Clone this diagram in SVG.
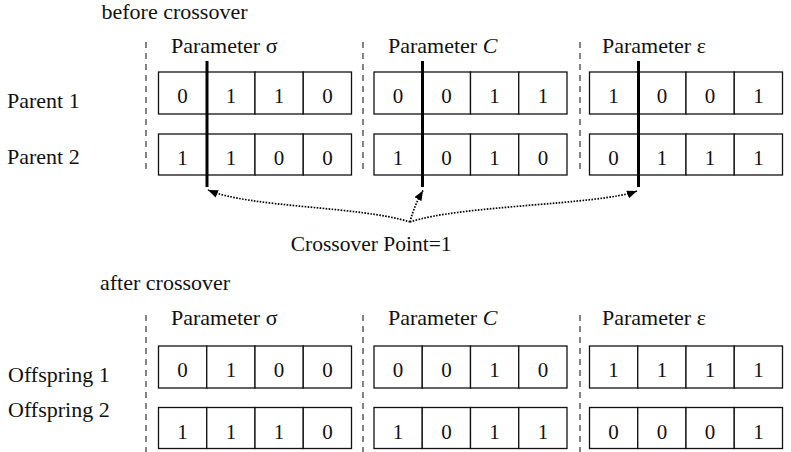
<svg xmlns="http://www.w3.org/2000/svg" width="791" height="452" viewBox="0 0 791 452">
  <style>
    text { font-family: "Liberation Serif", "Times New Roman", serif; fill: #111; }
    .lbl { font-size: 22px; }
    .bit { font-size: 21px; text-anchor: middle; }
    .cap { font-size: 21.5px; }
    .cell { fill: #fff; stroke: #111; stroke-width: 1.3; }
    .sep { stroke: #333; stroke-width: 1.2; stroke-dasharray: 6 5; fill: none; }
    .cut { stroke: #000; stroke-width: 3; }
    .dot { fill: none; stroke: #000; stroke-width: 1.7; stroke-dasharray: 1.6 1.4; }
  </style>
  <defs>
    <marker id="head" markerUnits="userSpaceOnUse" markerWidth="10" markerHeight="8" refX="10" refY="4" orient="auto">
      <path d="M0,0 L10,4 L0,8 z" fill="#000"/>
    </marker>
  </defs>

  <!-- section headings -->
  <text class="lbl" x="101.5" y="19">before crossover</text>
  <text class="lbl" x="100" y="290">after crossover</text>

  <!-- row labels -->
  <g id="row-labels">
    <text class="lbl" x="7" y="108">Parent 1</text>
    <text class="lbl" x="7" y="164">Parent 2</text>
    <text class="lbl" x="8" y="382">Offspring 1</text>
    <text class="lbl" x="8" y="417">Offspring 2</text>
  </g>

  <!-- column separators -->
  <g id="separators">
    <line class="sep" x1="146" y1="42" x2="146" y2="172"/>
    <line class="sep" x1="363" y1="42" x2="363" y2="172"/>
    <line class="sep" x1="580" y1="42" x2="580" y2="172"/>
    <line class="sep" x1="146" y1="315" x2="146" y2="452"/>
    <line class="sep" x1="363" y1="315" x2="363" y2="452"/>
    <line class="sep" x1="580" y1="315" x2="580" y2="452"/>
  </g>

  <!-- parameter headings -->
  <g id="param-titles">
    <text class="lbl" x="171" y="53">Parameter σ</text>
    <text class="lbl" x="388" y="53">Parameter <tspan font-style="italic">C</tspan></text>
    <text class="lbl" x="602" y="53">Parameter ε</text>
    <text class="lbl" x="171" y="325">Parameter σ</text>
    <text class="lbl" x="388" y="325">Parameter <tspan font-style="italic">C</tspan></text>
    <text class="lbl" x="602" y="325">Parameter ε</text>
  </g>

  <!-- Parent 1 -->
  <g id="parent1">
    <g transform="translate(158.5,72)">
      <rect class="cell" x="0" width="48.25" height="42"/><rect class="cell" x="48.25" width="48.25" height="42"/><rect class="cell" x="96.5" width="48.25" height="42"/><rect class="cell" x="144.75" width="48.25" height="42"/>
      <text class="bit" x="24.1" y="31">0</text><text class="bit" x="72.4" y="31">1</text><text class="bit" x="120.6" y="31">1</text><text class="bit" x="168.9" y="31">0</text>
    </g>
    <g transform="translate(374,72)">
      <rect class="cell" x="0" width="48.25" height="42"/><rect class="cell" x="48.25" width="48.25" height="42"/><rect class="cell" x="96.5" width="48.25" height="42"/><rect class="cell" x="144.75" width="48.25" height="42"/>
      <text class="bit" x="24.1" y="31">0</text><text class="bit" x="72.4" y="31">0</text><text class="bit" x="120.6" y="31">1</text><text class="bit" x="168.9" y="31">1</text>
    </g>
    <g transform="translate(589.5,72)">
      <rect class="cell" x="0" width="48.25" height="42"/><rect class="cell" x="48.25" width="48.25" height="42"/><rect class="cell" x="96.5" width="48.25" height="42"/><rect class="cell" x="144.75" width="48.25" height="42"/>
      <text class="bit" x="24.1" y="31">1</text><text class="bit" x="72.4" y="31">0</text><text class="bit" x="120.6" y="31">0</text><text class="bit" x="168.9" y="31">1</text>
    </g>
  </g>

  <!-- Parent 2 -->
  <g id="parent2">
    <g transform="translate(158.5,134)">
      <rect class="cell" x="0" width="48.25" height="41"/><rect class="cell" x="48.25" width="48.25" height="41"/><rect class="cell" x="96.5" width="48.25" height="41"/><rect class="cell" x="144.75" width="48.25" height="41"/>
      <text class="bit" x="24.1" y="31">1</text><text class="bit" x="72.4" y="31">1</text><text class="bit" x="120.6" y="31">0</text><text class="bit" x="168.9" y="31">0</text>
    </g>
    <g transform="translate(374,134)">
      <rect class="cell" x="0" width="48.25" height="41"/><rect class="cell" x="48.25" width="48.25" height="41"/><rect class="cell" x="96.5" width="48.25" height="41"/><rect class="cell" x="144.75" width="48.25" height="41"/>
      <text class="bit" x="24.1" y="31">1</text><text class="bit" x="72.4" y="31">0</text><text class="bit" x="120.6" y="31">1</text><text class="bit" x="168.9" y="31">0</text>
    </g>
    <g transform="translate(589.5,134)">
      <rect class="cell" x="0" width="48.25" height="41"/><rect class="cell" x="48.25" width="48.25" height="41"/><rect class="cell" x="96.5" width="48.25" height="41"/><rect class="cell" x="144.75" width="48.25" height="41"/>
      <text class="bit" x="24.1" y="31">0</text><text class="bit" x="72.4" y="31">1</text><text class="bit" x="120.6" y="31">1</text><text class="bit" x="168.9" y="31">1</text>
    </g>
  </g>

  <!-- crossover cut lines -->
  <g id="cut-lines">
    <line class="cut" x1="207" y1="61" x2="207" y2="187"/>
    <line class="cut" x1="422.5" y1="61" x2="422.5" y2="187"/>
    <line class="cut" x1="638.5" y1="61" x2="638.5" y2="187"/>
  </g>

  <!-- Offspring 1 -->
  <g id="offspring1">
    <g transform="translate(158.5,346)">
      <rect class="cell" x="0" width="48.25" height="42"/><rect class="cell" x="48.25" width="48.25" height="42"/><rect class="cell" x="96.5" width="48.25" height="42"/><rect class="cell" x="144.75" width="48.25" height="42"/>
      <text class="bit" x="24.1" y="31">0</text><text class="bit" x="72.4" y="31">1</text><text class="bit" x="120.6" y="31">0</text><text class="bit" x="168.9" y="31">0</text>
    </g>
    <g transform="translate(374,346)">
      <rect class="cell" x="0" width="48.25" height="42"/><rect class="cell" x="48.25" width="48.25" height="42"/><rect class="cell" x="96.5" width="48.25" height="42"/><rect class="cell" x="144.75" width="48.25" height="42"/>
      <text class="bit" x="24.1" y="31">0</text><text class="bit" x="72.4" y="31">0</text><text class="bit" x="120.6" y="31">1</text><text class="bit" x="168.9" y="31">0</text>
    </g>
    <g transform="translate(589.5,346)">
      <rect class="cell" x="0" width="48.25" height="42"/><rect class="cell" x="48.25" width="48.25" height="42"/><rect class="cell" x="96.5" width="48.25" height="42"/><rect class="cell" x="144.75" width="48.25" height="42"/>
      <text class="bit" x="24.1" y="31">1</text><text class="bit" x="72.4" y="31">1</text><text class="bit" x="120.6" y="31">1</text><text class="bit" x="168.9" y="31">1</text>
    </g>
  </g>

  <!-- Offspring 2 -->
  <g id="offspring2">
    <g transform="translate(158.5,407.5)">
      <rect class="cell" x="0" width="48.25" height="41"/><rect class="cell" x="48.25" width="48.25" height="41"/><rect class="cell" x="96.5" width="48.25" height="41"/><rect class="cell" x="144.75" width="48.25" height="41"/>
      <text class="bit" x="24.1" y="31">1</text><text class="bit" x="72.4" y="31">1</text><text class="bit" x="120.6" y="31">1</text><text class="bit" x="168.9" y="31">0</text>
    </g>
    <g transform="translate(374,407.5)">
      <rect class="cell" x="0" width="48.25" height="41"/><rect class="cell" x="48.25" width="48.25" height="41"/><rect class="cell" x="96.5" width="48.25" height="41"/><rect class="cell" x="144.75" width="48.25" height="41"/>
      <text class="bit" x="24.1" y="31">1</text><text class="bit" x="72.4" y="31">0</text><text class="bit" x="120.6" y="31">1</text><text class="bit" x="168.9" y="31">1</text>
    </g>
    <g transform="translate(589.5,407.5)">
      <rect class="cell" x="0" width="48.25" height="41"/><rect class="cell" x="48.25" width="48.25" height="41"/><rect class="cell" x="96.5" width="48.25" height="41"/><rect class="cell" x="144.75" width="48.25" height="41"/>
      <text class="bit" x="24.1" y="31">0</text><text class="bit" x="72.4" y="31">0</text><text class="bit" x="120.6" y="31">0</text><text class="bit" x="168.9" y="31">1</text>
    </g>
  </g>

  <!-- crossover point label -->
  <g id="crossover-point">
    <text class="cap" x="290.7" y="251">Crossover Point=1</text>
  </g>

  <!-- dotted pointers from the label to each cut -->
  <g id="connectors">
    <path class="dot" d="M410,222 C360,206 250,208 208,190" marker-end="url(#head)"/>
    <path class="dot" d="M410,222 Q414,206 423,190.5" marker-end="url(#head)"/>
    <path class="dot" d="M410,222 C460,205 600,205 637,191" marker-end="url(#head)"/>
  </g>
</svg>
